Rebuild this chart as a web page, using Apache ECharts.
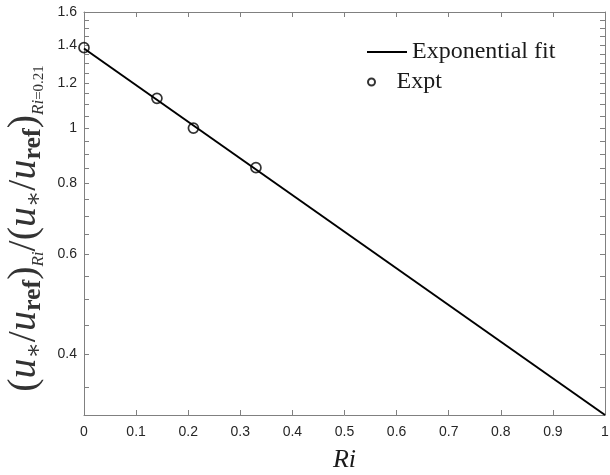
<!DOCTYPE html>
<html>
<head>
<meta charset="utf-8">
<script src="https://cdn.jsdelivr.net/npm/echarts@6/dist/echarts.min.js"></script>
<style>
  html, body { margin: 0; padding: 0; background: #fff; }
  #chart { width: 610px; height: 475px; }
</style>
</head>
<body>
<div id="chart"></div>
<script>
// measured points
const exptRi = [0, 0.14, 0.21, 0.33];
const exptVal = [1.385, 1.128, 1.0, 0.852];
// exponential fit is a straight line on the log axis: its two end points
const fitRi = [0, 1];
const fitVal = [1.38, 0.313];
// tick labels
const yLabels = [0.4, 0.6, 0.8, 1, 1.2, 1.4, 1.6];
const yTicks = [0.35, 0.4, 0.45, 0.5, 0.55, 0.6, 0.65, 0.7, 0.75, 0.8, 0.85, 0.9, 0.95,
  1, 1.05, 1.1, 1.15, 1.2, 1.25, 1.3, 1.35, 1.4, 1.45, 1.5, 1.55, 1.6];

const axisGray = '#808080';
const textDark = '#262626';
const ink = '#1a1a1a';
const titleInk = '#333';
const serif = '"Liberation Serif", "DejaVu Serif", serif';
const sans = '"Liberation Sans", Arial, sans-serif';

const fmt = (v) => String(+Number(v).toFixed(2));

const xBase = {
  type: 'value',
  min: 0,
  max: 1,
  interval: 0.1,
  axisLine: { show: true, onZero: false, lineStyle: { color: axisGray, width: 1 } },
  axisTick: { show: true, inside: true, length: 5, lineStyle: { color: axisGray } },
  splitLine: { show: false },
};
const yBase = {
  type: 'log',
  logBase: 10,
  min: 0.313,
  max: 1.6,
  axisLine: { show: true, onZero: false, lineStyle: { color: axisGray, width: 1 } },
  axisTick: { show: true, inside: true, length: 5, customValues: yTicks, lineStyle: { color: axisGray } },
  minorTick: { show: false },
  splitLine: { show: false },
};

const main = { fontFamily: serif, fontSize: 40, lineHeight: 44, color: titleInk };
const legendText = { fontFamily: serif, fontSize: 24, color: ink };

const option = {
  backgroundColor: '#fff',
  animation: false,
  grid: { left: 84, right: 5, top: 12, bottom: 60, outerBoundsMode: 'none' },
  legend: [
    {
      data: [{ name: 'Exponential fit', icon: 'rect' }],
      left: 367,
      top: 40,
      padding: 0,
      itemWidth: 40,
      itemHeight: 2,
      textStyle: legendText,
    },
    {
      data: ['Expt'],
      left: 367,
      top: 70,
      padding: 0,
      itemWidth: 40,
      itemHeight: 7,
      textStyle: legendText,
    },
  ],
  xAxis: [
    Object.assign({}, xBase, {
      position: 'bottom',
      name: 'Ri',
      nameLocation: 'middle',
      nameGap: 32,
      nameTextStyle: { fontFamily: serif, fontStyle: 'italic', fontSize: 26, color: ink },
      axisLabel: {
        margin: 10,
        fontFamily: sans,
        fontSize: 14,
        color: textDark,
        formatter: (v) => String(+Number(v).toFixed(1)),
      },
    }),
    Object.assign({}, xBase, { position: 'top', axisLabel: { show: false } }),
  ],
  yAxis: [
    Object.assign({}, yBase, {
      position: 'left',
      axisLabel: {
        margin: 7,
        fontFamily: sans,
        fontSize: 14,
        color: textDark,
        customValues: yLabels,
        formatter: fmt,
      },
      name: '{n|(}{i|u}{a|∗}{n|/}{i|u}{b|ref}{n|)}{s|Ri}{n|/(}{i|u}{a|∗}{n|/}{i|u}{b|ref}{n|)}{s|Ri}{t|=0.21}',
      nameLocation: 'middle',
      nameRotate: 90,
      nameGap: 32,
      nameTextStyle: {
        padding: [0, 30, 0, 0],
        rich: {
          n: main,
          i: Object.assign({}, main, { fontStyle: 'italic' }),
          a: { fontFamily: serif, fontSize: 24, lineHeight: 11, verticalAlign: 'bottom', color: titleInk },
          b: { fontFamily: serif, fontSize: 26, fontWeight: 'bold', lineHeight: 16, verticalAlign: 'bottom', color: titleInk },
          s: { fontFamily: serif, fontSize: 17, fontStyle: 'italic', lineHeight: 10, verticalAlign: 'bottom', color: titleInk },
          t: { fontFamily: serif, fontSize: 15, lineHeight: 9, verticalAlign: 'bottom', color: titleInk },
        },
      },
    }),
    Object.assign({}, yBase, { position: 'right', axisLabel: { show: false } }),
  ],
  series: [
    {
      name: 'Exponential fit',
      type: 'line',
      data: fitRi.map((x, i) => [x, fitVal[i]]),
      symbol: 'none',
      lineStyle: { color: '#000', width: 2 },
      itemStyle: { color: '#000' },
      z: 2,
    },
    {
      name: 'Expt',
      type: 'scatter',
      data: exptRi.map((x, i) => [x, exptVal[i]]),
      symbol: 'circle',
      symbolSize: 10,
      itemStyle: { color: 'rgba(255,255,255,0)', borderColor: '#000', borderWidth: 1.7 },
      z: 3,
    },
  ],
};

const myChart = echarts.init(document.getElementById('chart'));
myChart.setOption(option);
window.addEventListener('resize', () => {
  myChart.resize();
});
</script>
</body>
</html>
